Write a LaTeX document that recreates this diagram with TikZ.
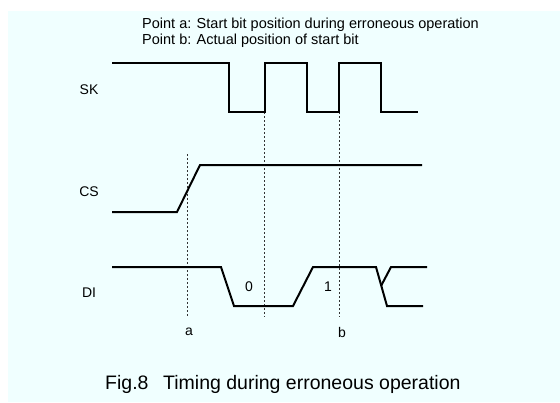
\documentclass[tikz,border=0pt]{standalone}
\usepackage{fontspec}
\setmainfont{Liberation Sans}
\usepackage{tikz}
\usetikzlibrary{positioning}
\definecolor{panel}{HTML}{F0FFFF}

\begin{document}
\begin{tikzpicture}[x=1pt, y=-1pt,
    signal/.style={line width=2pt, line join=miter},
    guide/.style={line width=0.6pt, dash pattern=on 2pt off 2pt, black!80},
    lbl/.style={font=\fontsize{14}{16}\selectfont, inner sep=0pt},
    note/.style={font=\fontsize{14.5}{15}\selectfont, inner sep=0pt, anchor=base west}]
        \useasboundingbox (0,0) rectangle (560,402);
        % Background
        \fill[panel] (8,11) rectangle (560,402);

        % Notes
        \node[note] (notea) at (142,28) {Point a: Start bit position during erroneous operation};
        \node[note] (noteb) at (142,44) {Point b: Actual position of start bit};

        % Signal names
        \node[lbl] (sk) at (89,90) {SK};
        \node[lbl] (cs) at (89,192) {CS};
        \node[lbl] (di) at (89,293) {DI};

        % Marks
        \node[lbl] (a) at (189,332) {a};
        \node[lbl] (b) at (342,332) {b};
        \node[lbl] (zero) at (249,287) {0};
        \node[lbl] (one) at (328,287) {1};
        \coordinate (atop) at (187,154);
        \coordinate (mtop) at (264,112);
        \coordinate (btop) at (339,112);
        \coordinate (mbot) at (264,317);

        % Guides
        \draw[guide] (atop) -- (atop |- mbot);
        \draw[guide] (mtop) -- (mbot);
        \draw[guide] (btop) -- (btop |- mbot);

        % SK
        \draw[signal] (112,63) -- (229,63) -- (229,112) -- (265,112) -- (265,63) -- (307,63)
            -- (307,112) -- (339,112) -- (339,63) -- (381,63) -- (381,112) -- (418,112);
        % CS
        \draw[signal] (112,212) -- (177,212) -- (200,165) -- (422,165);
        % DI
        \draw[signal] (112,267) -- (221,267) -- (234,306) -- (293,306) -- (313,267) -- (376,267)
            -- (387,306) -- (423,306);
        \draw[signal] (427,267) -- (391,267) -- (381,286);

        % Caption
        \node[font=\fontsize{19.5}{22}\selectfont, inner sep=0pt, anchor=base west] (caption) at (105,389)
            {Fig.8\hspace{0.75em}Timing during erroneous operation};
    \end{tikzpicture}
\end{document}
